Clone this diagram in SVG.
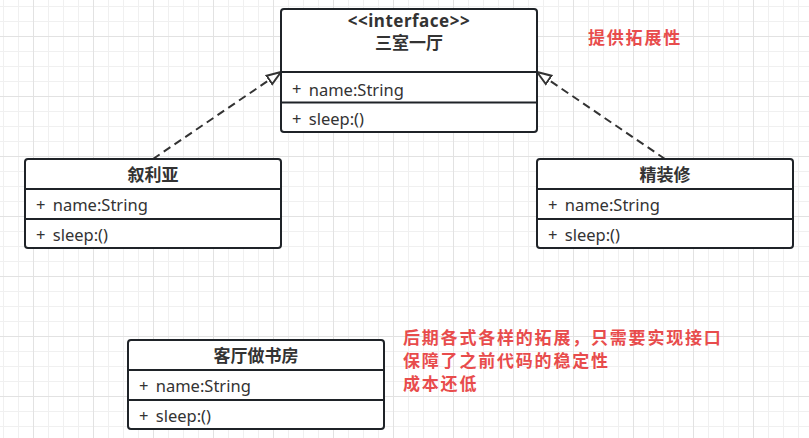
<svg xmlns="http://www.w3.org/2000/svg" width="809" height="438" viewBox="0 0 809 438">
  <defs>
    <pattern id="grid" patternUnits="userSpaceOnUse" x="33" y="36" width="60" height="60">
      <rect width="60" height="60" fill="#ffffff"/>
      <g fill="#f0f0f0">
        <rect x="15" y="0" width="1" height="60"/>
        <rect x="30" y="0" width="1" height="60"/>
        <rect x="45" y="0" width="1" height="60"/>
        <rect x="0" y="15" width="60" height="1"/>
        <rect x="0" y="30" width="60" height="1"/>
        <rect x="0" y="45" width="60" height="1"/>
      </g>
      <g fill="#e2e2e2">
        <rect x="0" y="0" width="1" height="60"/>
        <rect x="0" y="0" width="60" height="1"/>
      </g>
    </pattern>
    <marker id="openTri" markerUnits="userSpaceOnUse" markerWidth="18" markerHeight="14" refX="15" refY="6" orient="auto" viewBox="0 0 18 12">
      <path d="M1,1 L15,6 L1,11 Z" fill="#ffffff" stroke="#333333" stroke-width="2" stroke-linejoin="miter"/>
    </marker>
    <style>
      .box { fill: #ffffff; stroke: #1f2328; stroke-width: 2; }
      .sep { stroke: #1f2328; stroke-width: 2; }
      .title { font-family: "Noto Sans", "Noto Sans CJK SC", sans-serif; font-weight: bold; font-size: 17px; fill: #333333; text-anchor: middle; dominant-baseline: central; }
      .member { font-family: "Noto Sans", "Noto Sans CJK SC", sans-serif; font-size: 16.5px; fill: #333333; dominant-baseline: central; }
      .note { font-family: "Noto Sans", "Noto Sans CJK SC", sans-serif; font-weight: bold; font-size: 17px; letter-spacing: 1.8px; fill: #e84c4c; dominant-baseline: central; }
      .conn { fill: none; stroke: #333333; stroke-width: 2; stroke-dasharray: 8 5; }
    </style>
  </defs>

  <rect x="0" y="0" width="809" height="438" fill="url(#grid)"/>

  <g id="connectors">
    <line class="conn" x1="153" y1="159" x2="281" y2="72" marker-end="url(#openTri)"/>
    <line class="conn" x1="665" y1="159" x2="537" y2="72" marker-end="url(#openTri)"/>
  </g>

  <g id="interface-node">
    <rect class="box" x="281" y="9" width="256" height="123" rx="3"/>
    <line class="sep" x1="281" y1="72" x2="537" y2="72"/>
    <line class="sep" x1="281" y1="102.5" x2="537" y2="102.5"/>
    <text class="title" x="409" y="20.5" letter-spacing="0.5">&lt;&lt;interface&gt;&gt;</text>
    <text class="title" x="409" y="42.5">三室一厅</text>
    <text class="member" x="292" y="88.5">+<tspan dx="3"> name:String</tspan></text>
    <text class="member" x="292" y="118">+<tspan dx="3"> sleep:()</tspan></text>
  </g>

  <g id="node-xuliya">
    <rect class="box" x="25" y="159" width="256" height="89" rx="3"/>
    <line class="sep" x1="25" y1="189" x2="281" y2="189"/>
    <line class="sep" x1="25" y1="219" x2="281" y2="219"/>
    <text class="title" x="153" y="174">叙利亚</text>
    <text class="member" x="36" y="204">+<tspan dx="3"> name:String</tspan></text>
    <text class="member" x="36" y="234">+<tspan dx="3"> sleep:()</tspan></text>
  </g>

  <g id="node-jingzhuangxiu">
    <rect class="box" x="537" y="159" width="256" height="89" rx="3"/>
    <line class="sep" x1="537" y1="189" x2="793" y2="189"/>
    <line class="sep" x1="537" y1="219" x2="793" y2="219"/>
    <text class="title" x="665" y="174">精装修</text>
    <text class="member" x="548" y="204">+<tspan dx="3"> name:String</tspan></text>
    <text class="member" x="548" y="234">+<tspan dx="3"> sleep:()</tspan></text>
  </g>

  <g id="node-keting">
    <rect class="box" x="128" y="340" width="256" height="89" rx="3"/>
    <line class="sep" x1="128" y1="370" x2="384" y2="370"/>
    <line class="sep" x1="128" y1="400" x2="384" y2="400"/>
    <text class="title" x="256" y="355">客厅做书房</text>
    <text class="member" x="139" y="385">+<tspan dx="3"> name:String</tspan></text>
    <text class="member" x="139" y="415">+<tspan dx="3"> sleep:()</tspan></text>
  </g>

  <g id="note-top">
    <text class="note" x="588" y="37">提供拓展性</text>
  </g>

  <g id="note-bottom">
    <text class="note" x="403" y="337">后期各式各样的拓展，只需要实现接口</text>
    <text class="note" x="403" y="360.3">保障了之前代码的稳定性</text>
    <text class="note" x="403" y="383.6">成本还低</text>
  </g>
</svg>
